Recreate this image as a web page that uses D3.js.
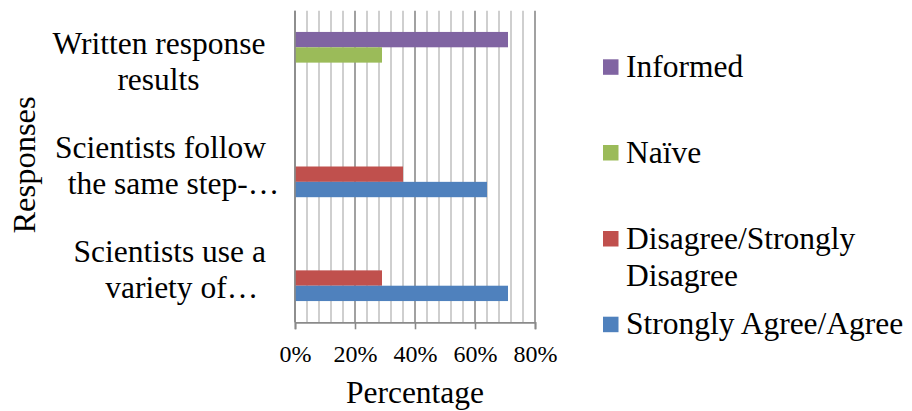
<!DOCTYPE html>
<html>
<head>
<meta charset="utf-8">
<script src="https://cdn.jsdelivr.net/npm/d3@7"></script>
<style>
  html, body { margin: 0; padding: 0; background: #fff; }
  svg { display: block; }
  text { font-family: "Liberation Serif", "Times New Roman", serif; fill: #000; }
</style>
</head>
<body>
<svg id="chart" width="912" height="411"></svg>
<script>
// ---- Data ----
const categories = ["Written response results", "Scientists follow the same step-…", "Scientists use a variety of…"];
const categoryLines = [["Written response", "results"], ["Scientists follow", "the same step-…"], ["Scientists use a", "variety of…"]];
const seriesNames = ["Informed", "Naïve", "Disagree/Strongly Disagree", "Strongly Agree/Agree"];
const informed = [71, null, null];
const naive = [29, null, null];
const disagree = [null, 36, 29];
const agree = [null, 64, 71];
const xTicks = [0, 20, 40, 60, 80];
const xTickLabels = ["0%", "20%", "40%", "60%", "80%"];

// ---- Layout / style ----
const colors = ["#8064A2", "#9BBB59", "#C0504D", "#4F81BD"];
const plot = { left: 295, right: 535, top: 10.7, bottom: 322.3 };
const labelCenters = [[159, 158.5], [160.5, 173.5], [169.7, 181.7]];
const svg = d3.select("#chart");

const seriesValues = [informed, naive, disagree, agree];

const x = d3.scaleLinear().domain([0, 80]).range([plot.left, plot.right]);
const y = d3.scaleBand().domain(categories).range([plot.top, plot.bottom])
  .paddingInner(0.409).paddingOuter(0.2045);
const ySub = d3.scaleBand().domain(seriesNames).range([0, y.bandwidth()]);

// gridlines (minor every 4%, major every 20%)
const minor = d3.range(0, 80.001, 4).filter(v => v % 20 !== 0);
svg.append("g").selectAll("line").data(minor).join("line")
  .attr("x1", d => x(d)).attr("x2", d => x(d))
  .attr("y1", plot.top).attr("y2", plot.bottom)
  .attr("stroke", "#c3c3c3").attr("stroke-width", 1.6);
svg.append("g").selectAll("line").data(xTicks).join("line")
  .attr("x1", d => x(d)).attr("x2", d => x(d))
  .attr("y1", plot.top).attr("y2", plot.bottom)
  .attr("stroke", "#8a8a8a").attr("stroke-width", 1.6);

// bars
seriesNames.forEach((s, si) => {
  const data = categories.map((c, i) => ({ c, v: seriesValues[si][i] })).filter(d => d.v != null);
  svg.append("g").selectAll("rect").data(data).join("rect")
    .attr("x", x(0))
    .attr("y", d => y(d.c) + ySub(s))
    .attr("width", d => x(d.v) - x(0))
    .attr("height", ySub.bandwidth())
    .attr("fill", colors[si]);
});

// x axis
const xAxis = d3.axisBottom(x).tickValues(xTicks).tickSize(7).tickFormat((d, i) => xTickLabels[i]);
const gx = svg.append("g").attr("transform", `translate(0,${plot.bottom})`).call(xAxis);
gx.select(".domain").attr("stroke", "#8a8a8a").attr("stroke-width", 1.8);
gx.selectAll(".tick line").attr("stroke", "#8a8a8a").attr("stroke-width", 1.6);
gx.selectAll(".tick text")
  .attr("y", 39.5).attr("dy", null)
  .style("font-family", "Liberation Serif, serif").style("font-size", "24px").attr("fill", "#000");

// y axis line at 0
svg.append("line").attr("x1", x(0)).attr("x2", x(0)).attr("y1", plot.top).attr("y2", plot.bottom)
  .attr("stroke", "#8a8a8a").attr("stroke-width", 1.6);

// category labels
categories.forEach((c, i) => {
  const cy = y(c) + y.bandwidth() / 2;
  categoryLines[i].forEach((ln, j) => {
    svg.append("text")
      .attr("x", labelCenters[i][j])
      .attr("y", cy - 8.5 + j * 36)
      .attr("text-anchor", "middle")
      .style("font-size", "31.5px")
      .text(ln);
  });
});

// axis titles
svg.append("text").attr("x", (plot.left + plot.right) / 2).attr("y", 403)
  .attr("text-anchor", "middle").style("font-size", "31.5px").text("Percentage");
svg.append("text").attr("transform", "translate(35,165) rotate(-90)")
  .attr("text-anchor", "middle").style("font-size", "32.5px").text("Responses");

// legend
const legendTops = [59.3, 145, 231, 316.7];
const legendLines = [["Informed"], ["Naïve"], ["Disagree/Strongly", "Disagree"], ["Strongly Agree/Agree"]];
seriesNames.forEach((s, i) => {
  const g = svg.append("g");
  g.append("rect").attr("x", 603).attr("y", legendTops[i]).attr("width", 15.5).attr("height", 15.5)
    .attr("fill", colors[i]);
  legendLines[i].forEach((ln, j) => {
    g.append("text").attr("x", 626).attr("y", legendTops[i] + 17.5 + j * 37.7)
      .style("font-size", "31.5px").text(ln);
  });
});
</script>
</body>
</html>
